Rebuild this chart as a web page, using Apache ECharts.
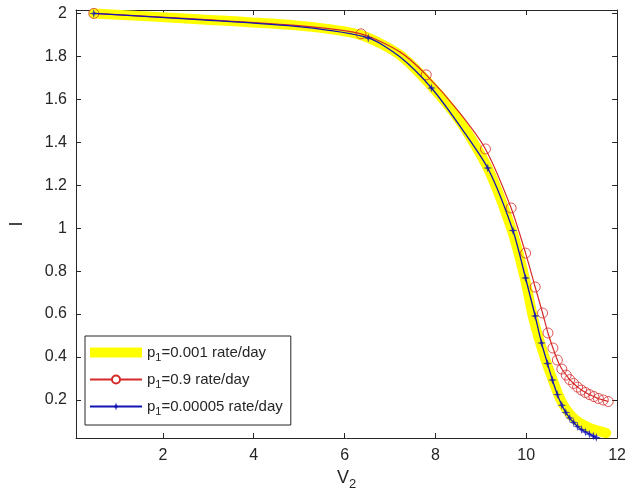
<!DOCTYPE html>
<html>
<head>
<meta charset="utf-8">
<script src="https://cdn.jsdelivr.net/npm/echarts@6/dist/echarts.min.js"></script>
<style>
  html, body { margin: 0; padding: 0; background: #fff; }
  #chart { width: 629px; height: 501px; }
</style>
</head>
<body>
<div id="chart"></div>
<script>
// tick labels
const xTicks = [2, 4, 6, 8, 10, 12];
const yTicks = [0.2, 0.4, 0.6, 0.8, 1, 1.2, 1.4, 1.6, 1.8, 2];

// p1 = 0.001 (thick yellow)
const yellowLine = [
  [0.478, 2.0], [2.87, 1.972], [5.043, 1.942], [6.348, 1.9], [7.217, 1.807],
  [7.913, 1.662], [8.522, 1.504], [9.152, 1.28], [9.696, 0.982], [9.978, 0.758],
  [10.152, 0.582], [10.326, 0.451], [10.457, 0.367], [10.609, 0.279], [10.739, 0.209],
  [10.891, 0.153], [11.087, 0.107], [11.348, 0.074], [11.609, 0.055], [11.761, 0.046]
];

// p1 = 0.9 (red, circles)
const redLine = [
  [0.478, 2.0], [2.87, 1.972], [5.043, 1.942], [6.363, 1.905], [7.217, 1.821],
  [7.798, 1.714], [8.522, 1.541], [9.102, 1.369], [9.667, 1.094], [9.985, 0.884],
  [10.196, 0.726], [10.359, 0.605], [10.478, 0.512], [10.587, 0.442], [10.685, 0.386],
  [10.783, 0.344], [10.88, 0.316], [10.957, 0.295], [11.043, 0.277], [11.13, 0.26],
  [11.217, 0.246], [11.304, 0.235], [11.391, 0.225], [11.489, 0.216], [11.587, 0.207],
  [11.696, 0.2], [11.804, 0.193]
];
const redMarks = [
  [0.478, 2.0], [6.363, 1.905], [7.798, 1.714], [9.102, 1.369], [9.667, 1.094],
  [9.985, 0.884], [10.196, 0.726], [10.359, 0.605], [10.478, 0.512], [10.587, 0.442],
  [10.685, 0.386], [10.783, 0.344], [10.88, 0.316], [10.957, 0.295], [11.043, 0.277],
  [11.13, 0.26], [11.217, 0.246], [11.304, 0.235], [11.391, 0.225], [11.489, 0.216],
  [11.587, 0.207], [11.696, 0.2], [11.804, 0.193]
];

// p1 = 0.00005 (blue, stars)
const blueLine = [
  [0.478, 2.0], [2.87, 1.97], [5.043, 1.937], [6.522, 1.886], [7.217, 1.798],
  [7.913, 1.653], [8.522, 1.481], [9.152, 1.28], [9.707, 0.989], [9.985, 0.768],
  [10.196, 0.591], [10.337, 0.465], [10.467, 0.37], [10.576, 0.293], [10.685, 0.225],
  [10.783, 0.176], [10.87, 0.142], [10.957, 0.116], [11.043, 0.095], [11.13, 0.076],
  [11.217, 0.062], [11.304, 0.051], [11.391, 0.041], [11.478, 0.032], [11.543, 0.025]
];
const blueMarks = [
  [0.478, 2.0], [6.522, 1.886], [7.913, 1.653], [9.152, 1.28], [9.707, 0.989],
  [9.985, 0.768], [10.196, 0.591], [10.337, 0.465], [10.467, 0.37], [10.576, 0.293],
  [10.685, 0.225], [10.783, 0.176], [10.87, 0.142], [10.957, 0.116], [11.043, 0.095],
  [11.13, 0.076], [11.217, 0.062], [11.304, 0.051], [11.391, 0.041], [11.478, 0.032],
  [11.543, 0.025]
];

const names = ['p1=0.001 rate/day', 'p1=0.9 rate/day', 'p1=0.00005 rate/day'];

const FONT = 'Liberation Sans, Arial, sans-serif';
const AXIS = '#262626';
const RED = '#d62a2a';
const BLUE = '#1414b4';
const STAR = 'path://M0,-10 L2.2,-2.2 L10,0 L2.2,2.2 L0,10 L-2.2,2.2 L-10,0 L-2.2,-2.2 Z';

const chart = echarts.init(document.getElementById('chart'));

const baseAxis = {
  axisLine: { show: true, onZero: false, lineStyle: { color: AXIS, width: 1 } },
  axisTick: { show: true, inside: true, length: 5, lineStyle: { color: AXIS } },
  splitLine: { show: false }
};

chart.setOption({
  animation: false,
  backgroundColor: '#fff',
  grid: { left: 72, right: 9, top: 10, bottom: 63 },
  xAxis: [
    {
      ...baseAxis,
      type: 'value', min: 0.087, max: 12, position: 'bottom',
      axisTick: { ...baseAxis.axisTick, customValues: xTicks },
      axisLabel: { customValues: xTicks, color: AXIS, fontSize: 16, fontFamily: FONT, margin: 10 },
      name: 'V{s|2}',
      nameLocation: 'middle',
      nameGap: 28,
      nameTextStyle: {
        color: AXIS, fontSize: 18, fontFamily: FONT,
        rich: { s: { fontSize: 13, fontFamily: FONT, color: AXIS, padding: [12, 0, 0, 0] } }
      }
    },
    {
      ...baseAxis,
      type: 'value', min: 0.087, max: 12, position: 'top',
      axisTick: { ...baseAxis.axisTick, customValues: xTicks },
      axisLabel: { show: false }
    }
  ],
  yAxis: [
    {
      ...baseAxis,
      type: 'value', min: 0.023, max: 2.016, position: 'left',
      axisTick: { ...baseAxis.axisTick, customValues: yTicks },
      axisLabel: { customValues: yTicks, color: AXIS, fontSize: 16, fontFamily: FONT, margin: 9 },
      name: 'I',
      nameLocation: 'middle',
      nameGap: 50,
      nameRotate: 90,
      nameTextStyle: { color: AXIS, fontSize: 18, fontFamily: FONT }
    },
    {
      ...baseAxis,
      type: 'value', min: 0.023, max: 2.016, position: 'right',
      axisTick: { ...baseAxis.axisTick, customValues: yTicks },
      axisLabel: { show: false }
    }
  ],
  legend: {
    orient: 'vertical',
    left: 85,
    top: 336,
    padding: [9, 8, 8, 4],
    itemGap: 9,
    itemWidth: 52,
    itemHeight: 10,
    borderColor: AXIS,
    borderWidth: 1,
    backgroundColor: '#fff',
    data: [
      { name: names[0], icon: 'rect' },
      { name: names[1] },
      { name: names[2] }
    ],
    formatter: n => n.replace('p1', 'p{s|1}'),
    textStyle: {
      color: AXIS, fontSize: 15, fontFamily: FONT,
      rich: { s: { fontSize: 11, fontFamily: FONT, color: AXIS, padding: [10, 0, 0, 0] } }
    }
  },
  series: [
    {
      name: names[0], type: 'line', data: yellowLine,
      smooth: 0.25, symbol: 'none',
      lineStyle: { color: '#ffff00', width: 10, cap: 'round', join: 'round' },
      itemStyle: { color: '#ffff00' }, z: 2
    },
    {
      name: names[1], type: 'line', data: redLine,
      smooth: 0.25, symbol: 'emptyCircle', showSymbol: false,
      lineStyle: { color: RED, width: 1.2 },
      itemStyle: { color: RED }, z: 3
    },
    {
      name: 'red markers', type: 'scatter', data: redMarks,
      symbol: 'circle', symbolSize: 10,
      itemStyle: { color: 'rgba(0,0,0,0)', borderColor: RED, borderWidth: 1 }, z: 4
    },
    {
      name: names[2], type: 'line', data: blueLine,
      smooth: 0.25, symbol: STAR, showSymbol: false,
      lineStyle: { color: BLUE, width: 1.3 },
      itemStyle: { color: BLUE }, z: 5
    },
    {
      name: 'blue markers', type: 'scatter', data: blueMarks,
      symbol: STAR, symbolSize: 9,
      itemStyle: { color: BLUE }, z: 6
    }
  ]
});
</script>
</body>
</html>
